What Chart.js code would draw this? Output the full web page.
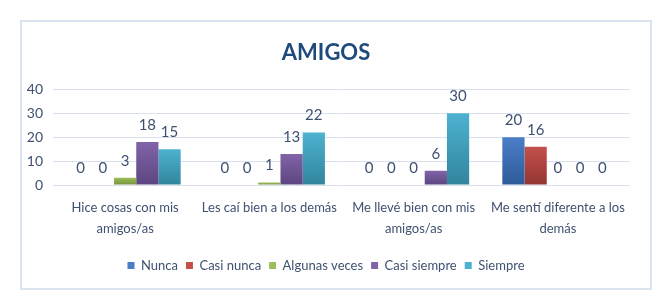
<!DOCTYPE html>
<html>
<head>
<meta charset="utf-8">
<script src="https://cdn.jsdelivr.net/npm/chart.js@4"></script>
<style>
  html,body{margin:0;padding:0;background:#fff;}
  #box{position:absolute;left:20px;top:20px;width:628px;height:266px;border:2px solid #dbe5f1;background:#fff;}
  #box canvas{display:block;}
</style>
</head>
<body>
<div id="box"><canvas id="c" width="628" height="266"></canvas></div>
<script>
/* AMIGOS — grouped bars */
const categories=[['Hice cosas con mis','amigos/as'],'Les caí bien a los demás',['Me llevé bien con mis','amigos/as'],['Me sentí diferente a los','demás']];
const nunca=[0,0,0,20];
const casiNunca=[0,0,0,16];
const algunasVeces=[3,1,0,0];
const casiSiempre=[18,13,6,0];
const siempre=[15,22,30,0];
const yTicks=[0,10,20,30,40];

const FONT="Lato,'Liberation Sans',sans-serif";
const TXT='#3f5170';

function grad(top,bottom){
  return function(c){
    const ch=c.chart;const a=ch.chartArea;if(!a)return top;
    const v=c.raw||0;const ys=ch.scales.y;
    const y0=ys.getPixelForValue(v),y1=ys.getPixelForValue(0);
    if(y1-y0<1)return top;
    const g=ch.ctx.createLinearGradient(0,y0,0,y1);g.addColorStop(0,top);g.addColorStop(1,bottom);return g;
  };
}

const valueLabels={id:'valueLabels',afterDatasetsDraw(ch){
  const ctx=ch.ctx;ctx.save();ctx.font='15px '+FONT;ctx.fillStyle=TXT;ctx.textAlign='center';ctx.textBaseline='middle';
  ch.data.datasets.forEach((ds,i)=>{const m=ch.getDatasetMeta(i);m.data.forEach((bar,j)=>{ctx.fillText(String(ds.data[j]),bar.x,bar.y-17);});});
  ctx.restore();
}};

const mk=(label,data,top,bottom)=>({label:label,data:data,backgroundColor:grad(top,bottom),borderWidth:0,legendColor:top});

new Chart(document.getElementById('c'),{
  type:'bar',
  data:{labels:categories,datasets:[
    mk('Nunca',nunca,'#4a7ec8','#2f5a98'),
    mk('Casi nunca',casiNunca,'#c4504c','#933532'),
    mk('Algunas veces',algunasVeces,'#9cbd58','#76923c'),
    mk('Casi siempre',casiSiempre,'#8164a8','#5c4580'),
    mk('Siempre',siempre,'#4db2d0','#31859c')
  ]},
  options:{
    responsive:false,animation:false,
    layout:{padding:{left:0,right:20,top:0,bottom:6}},
    datasets:{bar:{barPercentage:1,categoryPercentage:0.77}},
    scales:{
      x:{grid:{display:false},border:{display:false},afterFit:s=>{s.height=66;},ticks:{color:TXT,font:{family:FONT,size:13,lineHeight:1.65},padding:4,maxRotation:0,autoSkip:false}},
      y:{min:0,max:40,afterBuildTicks:s=>{s.ticks=yTicks.map(v=>({value:v}));},afterFit:s=>{s.width=31;},grid:{color:'#d9e1ee',lineWidth:1,drawTicks:false},border:{display:false},ticks:{color:TXT,font:{family:FONT,size:14},padding:10}}
    },
    plugins:{
      title:{display:true,text:'AMIGOS',color:'#1f4a7c',font:{family:FONT,size:22,weight:'bold'},padding:{top:18,bottom:23}},
      legend:{position:'bottom',labels:{color:TXT,font:{family:FONT,size:13},boxWidth:7,boxHeight:7,padding:8,
        generateLabels:ch=>ch.data.datasets.map((d,i)=>({text:d.label,fillStyle:d.legendColor,strokeStyle:d.legendColor,lineWidth:0,fontColor:TXT,datasetIndex:i}))}},
      tooltip:{enabled:false}
    }
  },
  plugins:[valueLabels]
});
</script>
</body>
</html>
